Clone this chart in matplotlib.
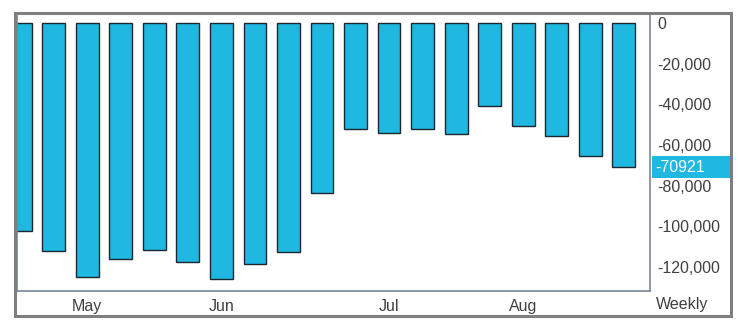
import matplotlib
matplotlib.use("Agg")
import matplotlib.pyplot as plt
from matplotlib.patches import Rectangle
import matplotlib.transforms as mtransforms
from matplotlib.ticker import FuncFormatter

plt.rcParams['font.family'] = ['Liberation Sans', 'DejaVu Sans']

# ---- data ----
values = [-102300, -112300, -125100, -116100, -111800, -117700, -126100, -118700,
          -112800, -83600, -52200, -54000, -52200, -54400, -40700, -50600,
          -55700, -65400, -70921]
month_ticks = [2, 6, 11, 15]
month_labels = ["May", "Jun", "Jul", "Aug"]
y_ticks = [0, -20000, -40000, -60000, -80000, -100000, -120000]
last_label = "-70921"
freq_label = "Weekly"

W, H = 746, 330
fig = plt.figure(figsize=(W / 100, H / 100), dpi=100)

def px_rect(l, t, r, b):
    return [l / W, 1 - b / H, (r - l) / W, (b - t) / H]

ax = fig.add_axes(px_rect(17, 14, 650, 291))

bar_color = "#1FB8E0"
x = list(range(len(values)))
ax.bar(x, values, width=0.68, color=bar_color, edgecolor="#1b2630", linewidth=1.0)

ax.set_xlim(-0.095, 18.78)
ax.set_ylim(-131900, 4580)

for s in ax.spines.values():
    s.set_color("#7a8699")
    s.set_linewidth(1.2)

ax.yaxis.tick_right()
ax.set_yticks(y_ticks)
ax.yaxis.set_major_formatter(FuncFormatter(lambda v, p: f"{int(v):,}"))
ax.tick_params(axis="y", length=0, pad=5, labelsize=11.5, labelcolor="#404040")
ax.set_xticks(month_ticks)
ax.set_xticklabels(month_labels)
ax.tick_params(axis="x", length=0, pad=6, labelsize=11.5, labelcolor="#404040")

# highlighted last value label
trans = mtransforms.blended_transform_factory(ax.transAxes, ax.transData)
v = values[-1]
ax.add_patch(Rectangle((1.003, v - 5400), 78 / 633, 10800, transform=trans,
                       facecolor=bar_color, edgecolor="none", clip_on=False, zorder=5))
ax.text(1.008, v, last_label, transform=trans, ha="left", va="center",
        fontsize=11.5, color="white", zorder=6, clip_on=False)

# frequency label
fig.text(656 / W, 1 - 304 / H, freq_label, ha="left", va="center",
         fontsize=11.5, color="#404040")

# outer frame
fig.patches.append(Rectangle((15 / W, 1 - 316 / H), (731 - 15) / W, (316 - 13) / H,
                             transform=fig.transFigure, fill=False,
                             edgecolor="#7f7f7f", linewidth=2.2))

fig.savefig("out.png", dpi=100)
